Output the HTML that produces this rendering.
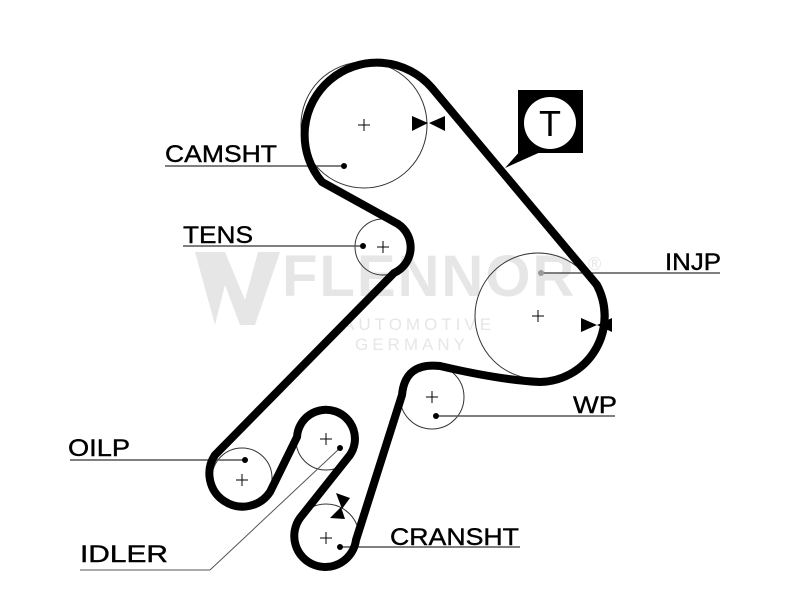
<!DOCTYPE html>
<html><head><style>body{margin:0;background:#fff}svg{display:block}</style></head><body>
<svg width="800" height="600" viewBox="0 0 800 600" xmlns="http://www.w3.org/2000/svg" font-family="Liberation Sans, sans-serif">
<g fill="#e6e6e6" font-weight="bold">
<polygon points="195,252 225,252 245,300 258,252 280,252 255,325 240,325 225,285 215,325"/>
<text x="282" y="296" font-size="58" letter-spacing="2">FLENNOR</text>
<text x="343" y="330" font-size="17" font-weight="normal" letter-spacing="4">AUTOMOTIVE</text>
<text x="355" y="350" font-size="17" font-weight="normal" letter-spacing="4">GERMANY</text>
<text x="588" y="270" font-size="18" font-weight="normal">®</text>
</g>
<g fill="none" stroke="#333" stroke-width="1">
<circle cx="364" cy="125" r="63"/><circle cx="383" cy="247" r="28"/><circle cx="538" cy="316" r="63"/>
<circle cx="432" cy="397" r="32"/><circle cx="242" cy="478" r="30"/><circle cx="326" cy="440" r="30"/><circle cx="326" cy="537" r="33"/>
</g>
<g stroke="#555" stroke-width="1.5">
<line x1="165" y1="166" x2="344" y2="166"/><line x1="183" y1="246" x2="363" y2="246"/>
<line x1="541" y1="273" x2="720" y2="273"/><line x1="436" y1="416" x2="615" y2="416"/>
<line x1="70" y1="460" x2="245" y2="460"/><line x1="340" y1="547" x2="520" y2="547"/>
<line x1="80" y1="570" x2="210" y2="570" stroke-width="1"/><line x1="210" y1="570" x2="340" y2="448" stroke-width="1"/>
</g>
<path d="M322,182 A62 62 0 1 1 432,88 L597,285 A66 66 0 0 1 540,382 Q500,380 440,366 Q405,362 402,395 L356,540 A31 31 0 1 1 300,518 L350,455 A29 29 0 1 0 297,437 L270,492 A28 28 0 0 1 215,455 L394,273 A28 28 0 0 0 398,224 Z" fill="none" stroke="#000" stroke-width="8" stroke-linejoin="round"/>
<g fill="#000">
<circle cx="344" cy="166" r="3"/><circle cx="363" cy="246" r="3"/><circle cx="245" cy="460" r="3"/>
<circle cx="340" cy="448" r="3"/><circle cx="436" cy="416" r="3"/><circle cx="340" cy="547" r="3"/>
<circle cx="541" cy="273" r="3" fill="#999"/>
<polygon points="412,116 412,131 428,123"/><polygon points="445,116 445,131 429,123"/>
<polygon points="581,318 581,332 597,325"/><polygon points="612,318 612,332 597,325"/>
<polygon points="336,493 350,498 342,509"/><polygon points="330,518 345,519 341,507"/>
<rect x="518" y="90" width="65" height="63"/><polygon points="530,140 545,150 505,168"/>
</g>
<circle cx="550" cy="123" r="26" fill="#fff"/>
<text x="550" y="136" font-size="36" text-anchor="middle">T</text>
<g font-size="24" fill="#000" stroke="#000" stroke-width="0.4">
<text x="165" y="162" textLength="112" lengthAdjust="spacingAndGlyphs">CAMSHT</text>
<text x="183" y="243" textLength="70" lengthAdjust="spacingAndGlyphs">TENS</text>
<text x="665" y="270" textLength="56" lengthAdjust="spacingAndGlyphs">INJP</text>
<text x="573" y="413" textLength="44" lengthAdjust="spacingAndGlyphs">WP</text>
<text x="68" y="456" textLength="62" lengthAdjust="spacingAndGlyphs">OILP</text>
<text x="390" y="545" textLength="129" lengthAdjust="spacingAndGlyphs">CRANSHT</text>
<text x="80" y="562" textLength="88" lengthAdjust="spacingAndGlyphs">IDLER</text>
</g>
<g stroke="#000" stroke-width="1">
<path d="M358,125h12M364,119v12M377,247h12M383,241v12M532,316h12M538,310v12M426,397h12M432,391v12M236,480h12M242,474v12M320,439h12M326,433v12M320,538h12M326,532v12"/>
</g>
</svg>
</body></html>
